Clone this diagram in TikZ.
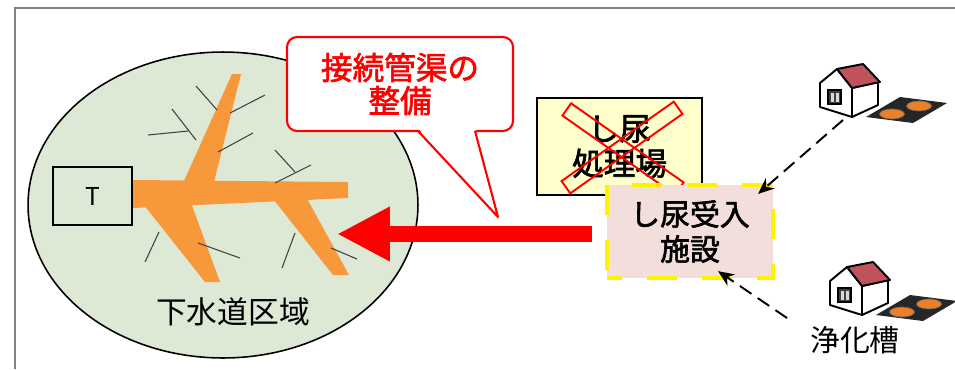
\documentclass[tikz,border=0pt]{standalone}
\usepackage{fontspec}
\usepackage{xcolor}
\usetikzlibrary{arrows.meta}
\newfontfamily\jp{Noto Sans CJK JP}
\newfontfamily\jpb{Noto Sans CJK JP}[FakeBold=2]
\definecolor{khung}{RGB}{130,130,130}
\definecolor{vung}{RGB}{222,233,213}
\definecolor{ong}{RGB}{247,152,58}
\definecolor{nenvang}{RGB}{255,255,204}
\definecolor{nenhong}{RGB}{242,222,218}
\definecolor{mai}{RGB}{192,82,92}
\definecolor{be}{RGB}{236,128,40}

\tikzset{
  nha/.pic={
    % bể tự hoại
    \fill[black!85] (46,53) -- (80,33) -- (127,39) -- (93,59) -- cycle;
    \filldraw[fill=be, draw=black!60] (99,42) ellipse [x radius=0.25cm, y radius=0.1cm];
    \filldraw[fill=be, draw=black!60] (72,50) ellipse [x radius=0.25cm, y radius=0.1cm];
    % ngôi nhà
    \draw[line width=1.1pt, fill=white, line join=round] (0,19) -- (17,5) -- (32,24) -- (32,53) -- (0,43) -- cycle;
    \draw[line width=1.1pt, fill=white, line join=round] (32,24) -- (58,18) -- (58,41) -- (32,53) -- cycle;
    \draw[line width=1.1pt, fill=mai, line join=round] (17,5) -- (43,0) -- (60,18) -- (32,24) -- cycle;
    \draw[line width=0.9pt, fill=black!75] (8,26) rectangle (21,40);
    \fill[white!85!black] (10.5,28.5) rectangle (14,37.5);
    \fill[white!85!black] (15.5,28.5) rectangle (19,37.5);
  }
}

\begin{document}
\begin{tikzpicture}[x=0.02cm, y=-0.02cm,
    hop/.style={draw, line width=1pt, align=center, inner sep=0pt},
    gach/.style={draw=red, line width=1.1pt, minimum width=2.75cm, minimum height=0.3cm, inner sep=0pt},
    duongnet/.style={line width=1.1pt, dash pattern=on 0.28cm off 0.15cm, -{Stealth[length=0.32cm, width=0.27cm]}}]
    \useasboundingbox (0,0) rectangle (955,369);
    % Khung ngoài
    \draw[khung, line width=1.5pt] (15,369) -- (15,8) -- (955,8);

    % Vùng cống thoát nước
    \draw[fill=vung, line width=0.9pt] (223,205) ellipse [x radius=3.9cm, y radius=3.06cm];
    % Ống chính và nhánh
    \fill[ong] (133,180) -- (348,182) -- (348,198) -- (133,208) -- cycle;
    \fill[ong] (180,190) -- (232,74) -- (241,74) -- (212,190) -- cycle;
    \fill[ong] (140,200) -- (190,200) -- (220,282) -- (205,282) -- cycle;
    \fill[ong] (270,195) -- (305,195) -- (349,275) -- (333,275) -- cycle;
    % Ống nhánh nhỏ
    \foreach \a/\b/\c/\d in {196/86/217/110, 230/113/265/95, 172/109/196/140, 148/135/188/131,
        218/152/253/133, 275/150/295/172, 275/183/311/165, 145/262/159/232,
        198/243/240/258, 282/268/295/233, 331/248/357/259}
      \draw[black!75, line width=0.6pt] (\a,\b) -- (\c,\d);
    \node[hop, minimum width=1.58cm, minimum height=1.16cm, font=\jp\fontsize{14}{16}\selectfont] (tram) at (92.5,196) {T};
    \node[font=\jp\fontsize{17.5}{20}\selectfont] (khuvuc) at (233,312) {下水道区域};

    % Chú thích
    \node[draw=red, line width=1.2pt, fill=white, rounded corners=0.2cm, minimum width=4.52cm, minimum height=1.88cm,
          align=center, text=red, font=\jpb\fontsize{18}{18.8}\selectfont] (chuthich) at (400,84) {接続管渠の\\整備};
    \fill[white] (418,128) -- (498,217) -- (475,128) -- cycle;
    \draw[red, line width=1.2pt, line join=round] (418,131) -- (498,217) -- (475,131);

    % Nhà máy xử lý cũ
    \node[hop, fill=nenvang, minimum width=3.3cm, minimum height=1.94cm,
          font=\jpb\fontsize{18}{19.8}\selectfont] (xuly) at (619.5,146.5) {し尿\\処理場};
    \node[gach, rotate=-35.1] (gach1) at (623,149) {};
    \node[gach, rotate=35.3] (gach2) at (622,147.5) {};

    % Cơ sở tiếp nhận
    \node[draw=yellow, line width=2.4pt, dash pattern=on 0.6cm off 0.5cm, dash phase=0.3cm, fill=nenhong,
          minimum width=3.32cm, minimum height=1.86cm, align=center, inner sep=0pt,
          font=\jpb\fontsize{17}{19.9}\selectfont] (tiepnhan) at (690,231.5) {し尿受入\\施設};

    % Mũi tên đỏ
    \coordinate (dauvao) at (337,234);
    \draw[red, line width=0.31cm, shorten <=0.26cm, -{Triangle[length=1.06cm, width=1.02cm]}]
        (tiepnhan.west |- dauvao) -- (dauvao);

    % Nhà và bể tự hoại
    \pic at (820,64) {nha};
    \pic at (830,262) {nha};
    \node[font=\jp\fontsize{17}{20}\selectfont] (bethoai) at (855,340) {浄化槽};
    \coordinate (nguon1) at (843,120);
    \coordinate (nguon2) at (787,318);
    \draw[duongnet] (nguon1) -- ([shift={(-17,11)}]tiepnhan.north east);
    \draw[duongnet] (nguon2) -- ([shift={(28,-9)}]tiepnhan.south);
\end{tikzpicture}
\end{document}
